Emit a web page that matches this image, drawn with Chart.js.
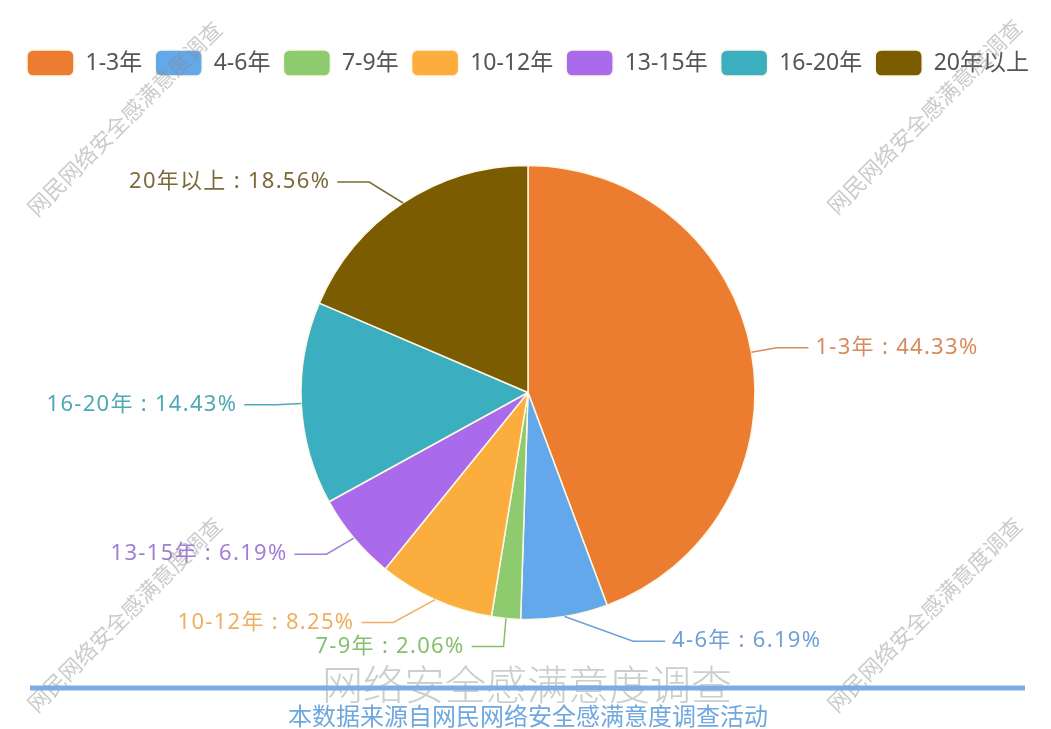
<!DOCTYPE html>
<html>
<head>
<meta charset="utf-8">
<script src="https://cdn.jsdelivr.net/npm/chart.js@4"></script>
<style>
  html, body { margin: 0; padding: 0; background: #fff; }
  #wrap { width: 1051px; height: 729px; }
</style>
</head>
<body>
<div id="wrap"><canvas id="myChart" width="1051" height="729"></canvas></div>
<script>
// data (counts out of 97 respondents)
const categories = ['1-3年', '4-6年', '7-9年', '10-12年', '13-15年', '16-20年', '20年以上'];
const counts = [43, 6, 2, 8, 6, 14, 18];
const sliceColors = ['#ec7c30', '#62a8ea', '#8dcb6e', '#fbae3e', '#a96beb', '#3bafbf', '#7b5c00'];
const labelColors = ['#d88b5c', '#6fa0d6', '#86bf6e', '#eeaf63', '#a07fd8', '#4ea9b5', '#7d6a3a'];
const titleText = '网络安全感满意度调查';
const subTitleText = '本数据来源自网民网络安全感满意度调查活动';
const watermarkText = '网民网络安全感满意度调查';

const FONT = "'Noto Sans', 'Noto Sans CJK SC', sans-serif";
const SPACING = '1.3px';
const LEGEND_SPACING = '1.7px';

// the reference font runs wider, so space the legend letters out a bit
const spacing = {
  id: 'spacing',
  beforeInit(chart) {
    chart.ctx.letterSpacing = LEGEND_SPACING;
  }
};

// outside labels with elbow leader lines
const pieLabels = {
  id: 'pieLabels',
  afterDatasetsDraw(chart) {
    const ctx = chart.ctx;
    const meta = chart.getDatasetMeta(0);
    const data = chart.data.datasets[0].data;
    const total = data.reduce((a, b) => a + b, 0);
    const len1 = 25, len2 = 32, fontSize = 22, lineH = 24;
    let items = [];
    meta.data.forEach((arc, i) => {
      const cx = arc.x, cy = arc.y, r = arc.outerRadius;
      const mid = (arc.startAngle + arc.endAngle) / 2;
      const dx = Math.cos(mid), dy = Math.sin(mid);
      const R = r + len1;
      const dir = dx < 0 ? -1 : 1;
      items.push({
        i, cx, cy, r, R, dir,
        x1: cx + dx * r, y1: cy + dy * r,
        x3: cx + dx * R + dir * len2,
        y: cy + dy * R,
        text: chart.data.labels[i] + ' : ' + (data[i] / total * 100).toFixed(2) + '%'
      });
    });
    // push apart overlapping labels on each side
    [-1, 1].forEach(side => {
      const list = items.filter(it => it.dir === side).sort((a, b) => a.y - b.y);
      for (let k = 1; k < list.length; k++) {
        if (list[k].y - list[k - 1].y < lineH) list[k].y = list[k - 1].y + lineH;
      }
    });
    items.forEach(it => {
      const deltaY = Math.abs(it.y - it.cy);
      let deltaX;
      if (deltaY < it.R) {
        deltaX = Math.sqrt((it.R + len2) * (it.R + len2) - deltaY * deltaY);
      } else {
        deltaX = Math.abs(it.x3 - it.cx);
      }
      const endX = it.cx + it.dir * deltaX;
      const elbowX = endX - it.dir * len2;
      ctx.save();
      ctx.strokeStyle = labelColors[it.i];
      ctx.lineWidth = 1.5;
      ctx.beginPath();
      ctx.moveTo(it.x1, it.y1);
      ctx.lineTo(elbowX, it.y);
      ctx.lineTo(endX, it.y);
      ctx.stroke();
      ctx.fillStyle = labelColors[it.i];
      ctx.font = fontSize + 'px ' + FONT;
      ctx.letterSpacing = SPACING;
      ctx.textBaseline = 'middle';
      ctx.textAlign = it.dir > 0 ? 'left' : 'right';
      ctx.fillText(it.text, endX + it.dir * 7, it.y);
      ctx.restore();
    });
  }
};

// footer title, rule and source line
const footer = {
  id: 'footer',
  afterDraw(chart) {
    const ctx = chart.ctx;
    const w = chart.width;
    ctx.save();
    ctx.letterSpacing = '0px';
    ctx.textAlign = 'center';
    ctx.textBaseline = 'middle';
    ctx.fillStyle = '#cdcdcd';
    ctx.font = '300 41px ' + FONT;
    ctx.fillText(titleText, 527, 688);
    ctx.strokeStyle = '#7aade3';
    ctx.lineWidth = 5;
    ctx.beginPath();
    ctx.moveTo(30, 688);
    ctx.lineTo(w - 26, 688);
    ctx.stroke();
    ctx.fillStyle = '#6fa7df';
    ctx.font = '24px ' + FONT;
    ctx.fillText(subTitleText, 528, 718);
    ctx.restore();
  }
};

// diagonal watermarks in the four corners
const watermark = {
  id: 'watermark',
  beforeDraw(chart) {
    const ctx = chart.ctx;
    ctx.save();
    ctx.fillStyle = '#fff';
    ctx.fillRect(0, 0, chart.width, chart.height);
    ctx.restore();
  },
  afterDraw(chart) {
    const ctx = chart.ctx;
    const spots = [[126, 120], [926, 118], [126, 616], [926, 616]];
    ctx.save();
    ctx.letterSpacing = '0px';
    ctx.font = '22px ' + FONT;
    ctx.fillStyle = 'rgba(140,140,140,0.45)';
    ctx.textAlign = 'center';
    ctx.textBaseline = 'middle';
    spots.forEach(p => {
      ctx.save();
      ctx.translate(p[0], p[1]);
      ctx.rotate(-Math.PI / 4);
      ctx.fillText(watermarkText, 0, 0);
      ctx.restore();
    });
    ctx.restore();
  }
};

function makeChart() {
  const ctx = document.getElementById('myChart');
  const configuration = {
    type: 'pie',
    data: {
      labels: categories,
      datasets: [{
        data: counts,
        backgroundColor: sliceColors,
        borderColor: '#fdf8e6',
        borderWidth: 1.5,
        radius: 227
      }]
    },
    options: {
      responsive: false,
      animation: false,
      layout: {
        padding: { top: 37, left: 7, right: 2, bottom: 30 }
      },
      plugins: {
        legend: {
          position: 'top',
          labels: {
            boxWidth: 47,
            boxHeight: 26,
            useBorderRadius: true,
            borderRadius: 6,
            padding: 13,
            color: '#555',
            font: { family: FONT, size: 23 }
          }
        },
        tooltip: { enabled: false }
      }
    },
    plugins: [spacing, watermark, pieLabels, footer]
  };
  new Chart(ctx, configuration);
}

window.onload = function () {
  makeChart();
};
</script>
</body>
</html>
